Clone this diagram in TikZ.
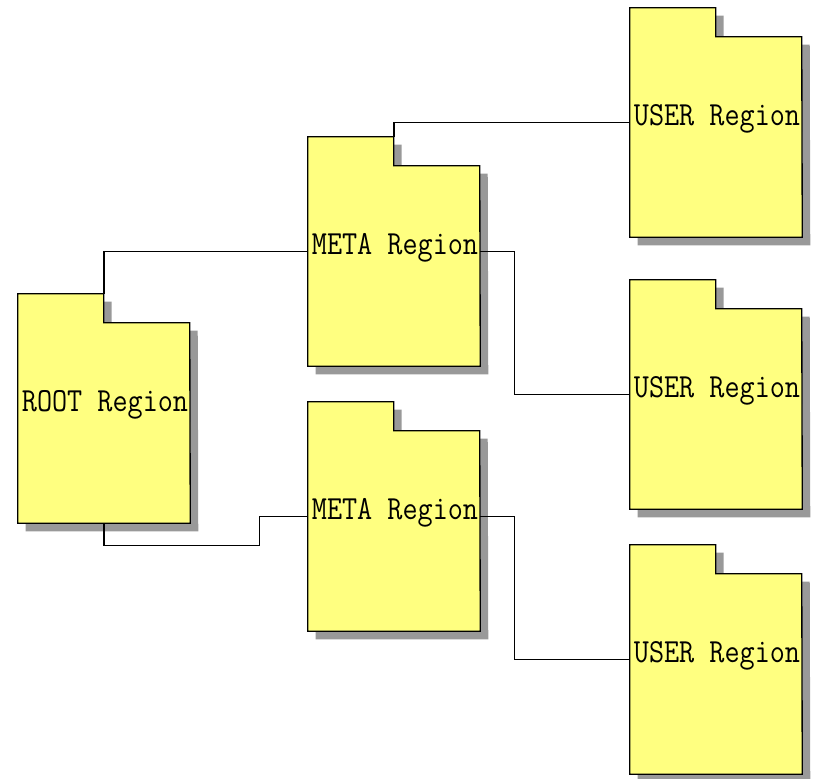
\documentclass[tikz,border=0pt]{standalone}
\usepackage{graphicx}
\usetikzlibrary{arrows}
\pgfdeclarelayer{back}
\pgfsetlayers{back,main}
\definecolor{regionyellow}{HTML}{FFFF80}
\definecolor{regiongray}{HTML}{999999}
\tikzset{
  region/.style={inner sep=0pt, minimum width=129pt, minimum height=171.75pt,
    text height=15.75pt, text depth=12pt,
    font=\fontsize{22}{26}\ttfamily},
  regionbody/.style={draw=black, fill=regionyellow, line width=1pt},
  regionshadow/.style={fill=regiongray},
  link/.style={draw=black, line width=1pt}
}
\newcommand\regtext[1]{\hspace*{1.5pt}\scalebox{1}[1.15]{#1}}

\begin{document}
\begin{tikzpicture}[x=0.75pt, y=-0.75pt]
\useasboundingbox (0,0) rectangle (813,778);

\node[region] (root)  at (104,408.5) {\regtext{ROOT Region}};
\node[region] (metaA) at (394,251.5) {\regtext{META Region}};
\node[region] (metaB) at (394,516.5) {\regtext{META Region}};
\node[region] (userA) at (716,122.5) {\regtext{USER Region}};
\node[region] (userB) at (716,394.5) {\regtext{USER Region}};
\node[region] (userC) at (716,659.5) {\regtext{USER Region}};

% folders with shadow
\begin{pgfonlayer}{back}
\foreach \r in {root,metaA,metaB,userA,userB,userC}{
  \fill[regionshadow] ([shift={(8,8)}]\r.north west) -- ++(86,0) -- ++(0,29) -- ++(86,0)
    -- ([shift={(8,8)}]\r.south east) -- ([shift={(8,8)}]\r.south west) -- cycle;
  \filldraw[regionbody] (\r.north west) -- ++(86,0) -- ++(0,29) -- ++(86,0)
    -- (\r.south east) -- (\r.south west) -- cycle;
}
\end{pgfonlayer}

% connectors
\draw[link] (root.north) |- (metaA.west);
\draw[link] (root.south) -- ++(0,22) -| ([shift={(-48,0)}]metaB.west) -- (metaB.west);
\draw[link] (metaA.north) |- (userA.west);
\draw[link] (metaA.east) -- ++(34,0) |- (userB.west);
\draw[link] (metaB.east) -- ++(34,0) |- (userC.west);

\end{tikzpicture}
\end{document}
